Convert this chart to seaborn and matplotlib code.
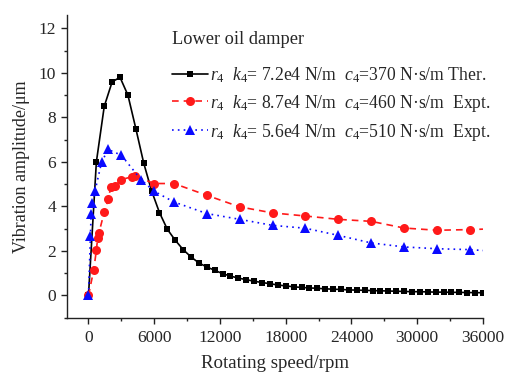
import numpy as np
import pandas as pd
import matplotlib
matplotlib.use("Agg")
import matplotlib.pyplot as plt
from matplotlib.ticker import MultipleLocator
import seaborn as sns

# Theoretical response, r4 (k4 = 7.2e4 N/m, c4 = 370 N·s/m)
ther_rpm = [0, 720, 1440, 2160, 2880, 3600, 4320, 5040, 5760, 6480, 7200, 7920,
            8640, 9360, 10080, 10800, 11520, 12240, 12960, 13680, 14400, 15120,
            15840, 16560, 17280, 18000, 18720, 19440, 20160, 20880, 21600, 22320,
            23040, 23760, 24480, 25200, 25920, 26640, 27360, 28080, 28800, 29520,
            30240, 30960, 31680, 32400, 33120, 33840, 34560, 35280, 36000]
ther_amp = [0.0, 6.0, 8.5, 9.6, 9.8, 9.0, 7.5, 5.95, 4.7, 3.72, 2.97, 2.48,
            2.06, 1.73, 1.46, 1.28, 1.13, 0.98, 0.87, 0.78, 0.71, 0.64,
            0.58, 0.53, 0.47, 0.43, 0.39, 0.36, 0.34, 0.32, 0.30, 0.28,
            0.27, 0.25, 0.24, 0.23, 0.22, 0.21, 0.20, 0.19, 0.18, 0.17,
            0.17, 0.16, 0.15, 0.15, 0.14, 0.14, 0.13, 0.13, 0.12]

# Measured response, k4 = 8.7e4 N/m, c4 = 460 N·s/m
exp1_rpm = [0, 480, 720, 840, 960, 1440, 1800, 2040, 2400, 3000, 3960, 4200,
            6000, 7800, 10800, 13800, 16800, 19800, 22800, 25800, 28800, 31800,
            34800, 36000]
exp1_amp = [0.0, 1.15, 2.03, 2.6, 2.82, 3.75, 4.32, 4.88, 4.91, 5.21, 5.33, 5.37,
            5.03, 5.03, 4.5, 3.98, 3.71, 3.57, 3.42, 3.33, 3.03, 2.93,
            2.96, 2.98]

# Measured response, k4 = 5.6e4 N/m, c4 = 510 N·s/m
exp2_rpm = [0, 180, 240, 360, 600, 1200, 1800, 3000, 4800, 6000, 7800, 10800,
            13800, 16800, 19800, 22800, 25800, 28800, 31800, 34800, 36000]
exp2_amp = [0.0, 2.68, 3.68, 4.16, 4.7, 6.0, 6.56, 6.3, 5.2, 4.68, 4.2, 3.68,
            3.42, 3.15, 3.02, 2.7, 2.36, 2.18, 2.1, 2.06, 2.02]

labels = [
    r"$r_4$  $k_4$= 7.2e4 N/m  $c_4$=370 N·s/m Ther.",
    r"$r_4$  $k_4$= 8.7e4 N/m  $c_4$=460 N·s/m  Expt.",
    r"$r_4$  $k_4$= 5.6e4 N/m  $c_4$=510 N·s/m  Expt.",
]
legend_title = "Lower oil damper"
x_label = "Rotating speed/rpm"
y_label = "Vibration amplitude/μm"

sns.set_theme(style="ticks")
plt.rcParams["font.family"] = ["Liberation Serif", "DejaVu Serif"]
plt.rcParams["mathtext.fontset"] = "custom"
plt.rcParams["mathtext.rm"] = "Liberation Serif"
plt.rcParams["mathtext.it"] = "Liberation Serif:italic"
plt.rcParams["axes.linewidth"] = 1.0
plt.rcParams["axes.edgecolor"] = "#222222"

fig = plt.figure(figsize=(5.16, 3.76), dpi=100)
ax = fig.add_axes([0.129, 0.155, 0.807, 0.805])

ther = pd.DataFrame({"rpm": ther_rpm, "amp": ther_amp})
exp1 = pd.DataFrame({"rpm": exp1_rpm, "amp": exp1_amp})
exp2 = pd.DataFrame({"rpm": exp2_rpm, "amp": exp2_amp})

sns.lineplot(data=ther, x="rpm", y="amp", ax=ax, color="black", lw=1.2,
             marker="s", markersize=5, markeredgewidth=0, sort=False,
             label=labels[0], zorder=3)
sns.lineplot(data=exp1, x="rpm", y="amp", ax=ax, color="#ff1a1a", lw=1.2,
             linestyle=(0, (4, 3)), marker="o", markersize=6.5,
             markeredgewidth=0, sort=False, markevery=list(range(len(exp1) - 1)),
             label=labels[1], zorder=4)
sns.lineplot(data=exp2, x="rpm", y="amp", ax=ax, color="#0a0aff", lw=1.2,
             linestyle=(0, (1, 2.5)), marker="^", markersize=7,
             markeredgewidth=0, sort=False, markevery=list(range(len(exp2) - 1)),
             label=labels[2], zorder=5)

ax.set_xlim(-2000, 36000)
ax.set_ylim(-1.0, 12.6)
ax.xaxis.set_major_locator(MultipleLocator(6000))
ax.xaxis.set_minor_locator(MultipleLocator(3000))
ax.yaxis.set_major_locator(MultipleLocator(2))
ax.yaxis.set_minor_locator(MultipleLocator(1))
ax.tick_params(axis="both", which="major", direction="out", length=4.5,
               width=1.0, labelsize=12.5, pad=3, color="#222222")
ax.tick_params(axis="x", which="major", pad=4.5)
ax.tick_params(axis="both", which="minor", direction="out", length=2.5,
               width=1.0, color="#222222")
ax.set_xlabel(x_label, fontsize=13.6, labelpad=6)
ax.set_ylabel(y_label, fontsize=13, labelpad=6)
sns.despine(ax=ax)

fig.text(0.333, 1 - 40 / 376, legend_title, fontsize=13.2,
         ha="left", va="center")
leg = ax.legend(loc="upper left", bbox_to_anchor=(0.333, 1 - 65 / 376),
                bbox_transform=fig.transFigure, frameon=False,
                fontsize=12.7, handlelength=2.05, handletextpad=0.12,
                labelspacing=0.45, borderpad=0, borderaxespad=0)

fig.savefig("out.png", dpi=100)
